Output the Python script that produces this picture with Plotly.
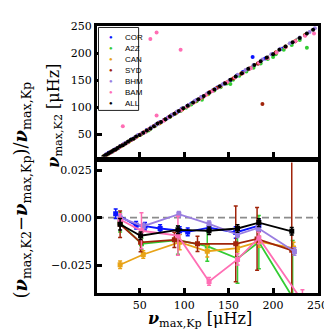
import plotly.graph_objects as go

# ---------------- data ----------------
names = ["COR", "A2Z", "CAN", "SYD", "BHM", "BAM", "ALL"]
colors = ["#0a14ff", "#33cc33", "#e8a317", "#a0240a", "#9a7ee0", "#ff6eb4", "#000000"]

# top panel: numax K2 vs numax Kp
cor_x = [12, 15, 19, 22, 26, 29, 33, 37, 41, 45, 49, 54, 58, 63, 68, 72, 77, 82, 87, 92, 97, 103, 108, 114, 120, 126, 132, 138, 145, 152, 159, 166, 174, 177, 183, 191, 200, 210]
cor_y = [13, 16, 18, 22, 25, 29, 33, 36, 41, 44, 49, 53, 58, 62, 67, 72, 76, 81, 86, 91, 97, 102, 107, 113, 119, 125, 131, 137, 144, 150, 158, 165, 172, 193, 181, 190, 198, 208]
a2z_x = [11, 14, 18, 21, 25, 29, 33, 38, 42, 47, 52, 57, 62, 67, 72, 78, 84, 90, 96, 102, 108, 114, 120, 127, 134, 141, 148, 155, 162, 170, 178, 186, 194, 203, 212, 221, 230, 238, 152, 120, 60, 200]
a2z_y = [11, 13, 17, 20, 24, 28, 32, 37, 41, 46, 50, 55, 60, 65, 70, 76, 82, 88, 93, 99, 105, 111, 117, 124, 131, 137, 144, 151, 158, 166, 173, 181, 189, 198, 206, 215, 224, 210, 143, 114, 57, 193]
can_x = [10, 13, 16, 20, 23, 27, 30, 34, 38, 43, 47, 52, 57, 62, 67, 73, 79, 85, 91, 98, 105, 112, 119, 126, 133, 141, 149, 157, 165, 174, 183, 193, 203, 214, 225, 236]
can_y = [10, 12, 15, 19, 22, 26, 29, 33, 37, 42, 46, 51, 56, 61, 66, 71, 78, 84, 90, 96, 103, 110, 117, 124, 132, 139, 147, 155, 163, 172, 181, 191, 201, 211, 222, 233]
syd_x = [12, 16, 19, 23, 27, 31, 36, 40, 45, 50, 55, 60, 66, 72, 78, 84, 91, 98, 105, 113, 121, 129, 137, 146, 155, 164, 173, 183, 193, 203, 214, 225, 236, 188]
syd_y = [12, 15, 19, 22, 26, 31, 35, 39, 44, 49, 54, 59, 65, 71, 77, 83, 90, 97, 104, 112, 119, 128, 136, 145, 153, 162, 171, 181, 191, 201, 212, 222, 233, 106]
bhm_x = [11, 14, 17, 21, 24, 28, 32, 36, 40, 44, 48, 53, 58, 63, 68, 74, 80, 86, 92, 98, 105, 112, 119, 127, 135, 143, 151, 160, 169, 178, 188, 198, 208, 219, 230, 241, 247]
bhm_y = [11, 14, 17, 21, 24, 28, 32, 36, 40, 44, 49, 53, 58, 63, 68, 73, 79, 86, 92, 98, 104, 112, 119, 127, 134, 142, 150, 160, 169, 178, 188, 198, 208, 218, 229, 239, 246]
bam_x = [13, 17, 20, 24, 28, 32, 36, 41, 46, 51, 56, 61, 66, 71, 77, 83, 89, 96, 103, 110, 117, 124, 132, 140, 148, 157, 166, 175, 184, 194, 204, 214, 225, 236, 246, 62, 69, 96, 31, 69]
bam_y = [13, 16, 19, 23, 27, 31, 35, 40, 45, 50, 54, 60, 65, 70, 75, 82, 88, 94, 101, 108, 115, 122, 130, 138, 146, 155, 163, 172, 182, 191, 201, 211, 222, 232, 236, 226, 238, 206, 65, 85]
all_x = [9, 11, 13, 15, 17, 19, 21, 23, 25, 28, 31, 34, 37, 40, 43, 46, 50, 54, 58, 62, 66, 70, 74, 79, 84, 89, 94, 99, 104, 110, 116, 122, 128, 134, 140, 146, 152, 158, 165, 172, 179, 186, 193, 200, 207, 214, 222, 230, 238, 245]
all_y = [9, 11, 13, 15, 17, 19, 21, 22, 25, 28, 30, 33, 37, 40, 42, 46, 49, 53, 57, 61, 65, 70, 73, 78, 83, 88, 93, 98, 103, 109, 115, 121, 127, 133, 139, 144, 151, 157, 163, 171, 178, 185, 192, 198, 206, 212, 220, 228, 236, 243]

# bottom panel: binned relative differences
cor_bx = [23, 46, 56, 73, 95, 104, 128, 158, 184]
cor_by = [0.002, -0.004, -0.0045, -0.0057, -0.0068, -0.0075, -0.0053, -0.0078, -0.0042]
cor_be = [0.0025, 0.002, 0.002, 0.002, 0.002, 0.002, 0.002, 0.003, 0.003]
a2z_bx = [28, 52, 93, 126, 160, 184, 222]
a2z_by = [-0.0026, -0.0138, -0.0118, -0.0150, -0.0215, -0.0129, -0.042]
a2z_be = [0.005, 0.003, 0.0075, 0.008, 0.013, 0.014, 0.030]
can_bx = [28, 54, 95, 126, 160, 184, 223]
can_by = [-0.0248, -0.0194, -0.0129, -0.0177, -0.016, -0.0126, -0.016]
can_be = [0.002, 0.002, 0.004, 0.003, 0.002, 0.003, 0.003]
syd_bx = [28, 51, 89, 115, 158, 182, 221]
syd_by = [-0.0035, -0.013, -0.0117, -0.0138, -0.0138, -0.0112, -0.0172]
syd_be = [0.007, 0.005, 0.004, 0.004, 0.020, 0.0165, 0.080]
bhm_bx = [28, 54, 94, 128, 160, 183, 224]
bhm_by = [0.0, -0.0045, 0.0018, -0.0033, -0.0089, -0.0054, -0.0178]
bhm_be = [0.0015, 0.0015, 0.0015, 0.0015, 0.0015, 0.0015, 0.002]
bam_bx = [28, 52, 93, 128, 160, 184, 233]
bam_by = [-0.001, -0.0069, -0.0095, -0.0336, -0.022, -0.0107, -0.044]
bam_be = [0.003, 0.0095, 0.0103, 0.002, 0.003, 0.003, 0.006]
all_bx = [28, 51, 93, 128, 160, 184, 221]
all_by = [-0.0035, -0.0095, -0.0064, -0.0069, -0.0057, -0.0026, -0.0072]
all_be = [0.003, 0.002, 0.002, 0.002, 0.002, 0.002, 0.002]

top_x = [cor_x, a2z_x, can_x, syd_x, bhm_x, bam_x, all_x]
top_y = [cor_y, a2z_y, can_y, syd_y, bhm_y, bam_y, all_y]
bot_x = [cor_bx, a2z_bx, can_bx, syd_bx, bhm_bx, bam_bx, all_bx]
bot_y = [cor_by, a2z_by, can_by, syd_by, bhm_by, bam_by, all_by]
bot_e = [cor_be, a2z_be, can_be, syd_be, bhm_be, bam_be, all_be]

x_ticks = [50, 100, 150, 200, 250]
top_y_ticks = [50, 100, 150, 200, 250]
bot_y_ticks = [-0.025, 0.0, 0.025]
bot_y_ticktext = ["\u22120.025", "0.000", "0.025"]

# ---------------- layout geometry ----------------
W = H = 332
L, R, T, B = 89, 20, 13, 47
PW = W - L - R
PH = H - T - B


def pxx(px):
    return (px - L) / PW


def pxy(py):
    return (H - B - py) / PH


SERIF = "DejaVu Serif"
SANS = "Liberation Sans"

fig = go.Figure()

# 1:1 reference line
fig.add_shape(type="line", xref="x2", yref="y2", x0=9, y0=9, x1=250, y1=250,
              line=dict(color="#8c8c8c", width=1.5, dash="5px,4px"), layer="below")
# zero line in bottom panel
fig.add_shape(type="line", xref="paper", yref="y", x0=0, x1=1, y0=0, y1=0,
              line=dict(color="#8c8c8c", width=1.8, dash="7px,4px"), layer="below")

for n, c, xs, ys in zip(names, colors, top_x, top_y):
    fig.add_trace(go.Scatter(x=xs, y=ys, mode="markers", xaxis="x2", yaxis="y2",
                             marker=dict(color=c, size=4, line=dict(width=0)),
                             showlegend=False, name=n))

for n, c, xs, ys, es in zip(names, colors, bot_x, bot_y, bot_e):
    fig.add_trace(go.Scatter(x=xs, y=ys, mode="lines+markers", xaxis="x", yaxis="y",
                             line=dict(color=c, width=1.8),
                             marker=dict(color=c, size=5, symbol="square"),
                             error_y=dict(type="data", array=es, color=c, thickness=1.5, width=2),
                             showlegend=False, name=n))

axis_common = dict(showline=True, linecolor="black", linewidth=3, mirror=True,
                   ticks="inside", ticklen=5, tickwidth=2.5, tickcolor="black",
                   showgrid=False, zeroline=False,
                   tickfont=dict(family=SERIF, size=11, color="black"))

fig.update_layout(
    width=W, height=H,
    margin=dict(l=L, r=R, t=T, b=B),
    paper_bgcolor="white", plot_bgcolor="white",
    showlegend=False,
    xaxis=dict(domain=[0, 1], anchor="y", range=[2, 250.5], tickvals=x_ticks, **axis_common),
    yaxis=dict(domain=[0, (H - B - 152) / PH], anchor="x", range=[-0.0397, 0.0291],
               tickvals=bot_y_ticks, ticktext=bot_y_ticktext, **axis_common),
    xaxis2=dict(domain=[0, 1], anchor="y2", range=[2, 250.5], tickvals=x_ticks,
                showticklabels=False, **axis_common),
    yaxis2=dict(domain=[(H - B - 146) / PH, 1], anchor="x2", range=[9, 250],
                tickvals=top_y_ticks, **axis_common),
)

# legend (drawn by hand to match the compact box)
fig.add_shape(type="rect", xref="paper", yref="paper", x0=pxx(90.5), x1=pxx(131), y0=pxy(99), y1=pxy(14.5),
              line=dict(color="#222222", width=1), fillcolor="white", layer="above")
for i, (n, c) in enumerate(zip(names, colors)):
    yy = pxy(24.7 + 11.2 * i)
    fig.add_annotation(x=pxx(103), y=yy, xref="paper", yref="paper", text="\u25cf", showarrow=False,
                       font=dict(size=6, color=c), xanchor="center", yanchor="middle")
    fig.add_annotation(x=pxx(115), y=yy, xref="paper", yref="paper", text=n, showarrow=False,
                       font=dict(size=8, color="black", family=SANS), xanchor="left", yanchor="middle")

nu = "<b><i>\u03bd</i></b>"
unit = " [\u03bcHz]"
fig.add_annotation(x=pxx(193), y=pxy(312.5), xref="paper", yref="paper", showarrow=False,
                   text=nu + "<sub>max,Kp</sub>" + unit,
                   font=dict(family=SERIF, size=16, color="black"), xanchor="center", yanchor="middle")
fig.add_annotation(x=pxx(46), y=pxy(104), xref="paper", yref="paper", showarrow=False, textangle=-90,
                   text=nu + "<sub>max,K2</sub>" + unit,
                   font=dict(family=SERIF, size=16, color="black"), xanchor="center", yanchor="middle")
fig.add_annotation(x=pxx(13), y=pxy(180), xref="paper", yref="paper", showarrow=False, textangle=-90,
                   text="(" + nu + "<sub>max,K2</sub>\u2212" + nu + "<sub>max,Kp</sub>)/" + nu + "<sub>max,Kp</sub>",
                   font=dict(family=SERIF, size=18, color="black"), xanchor="center", yanchor="middle")

fig.write_html("out.html")
